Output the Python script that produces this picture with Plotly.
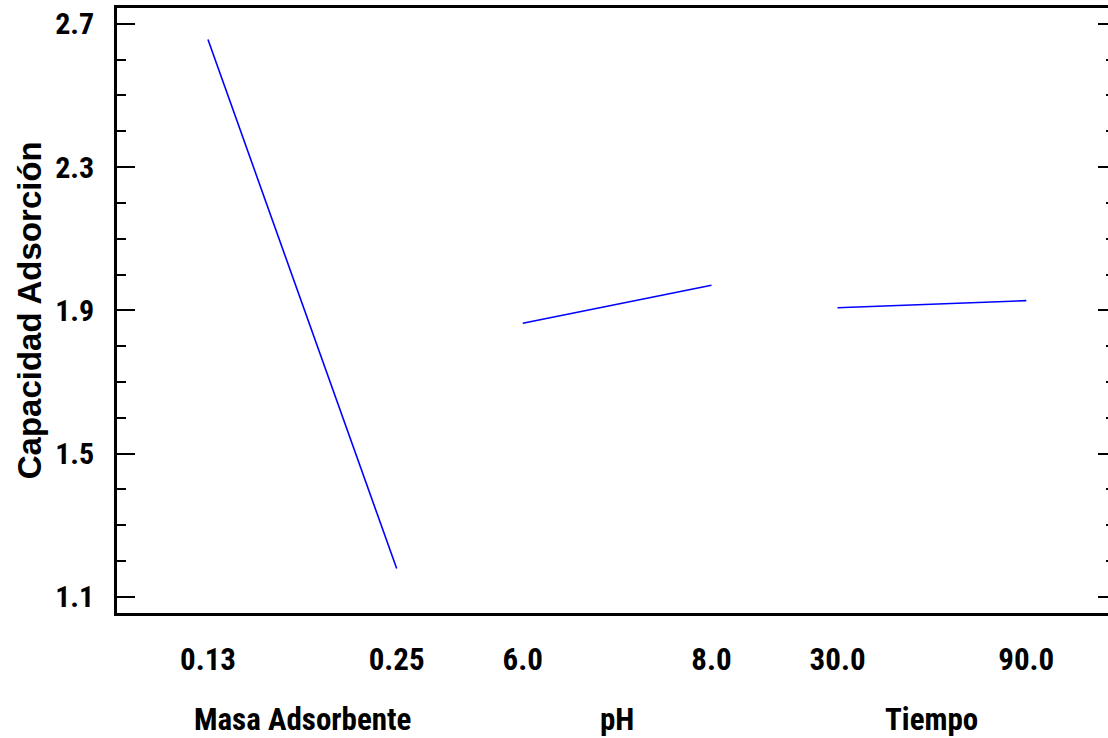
import plotly.graph_objects as go

# ---- data ----
factors = ["Masa Adsorbente", "pH", "Tiempo"]
masa_levels = ["0.13", "0.25"]
masa_values = [2.656, 1.179]
ph_levels = ["6.0", "8.0"]
ph_values = [1.864, 1.970]
tiempo_levels = ["30.0", "90.0"]
tiempo_values = [1.907, 1.927]

y_ticks = [1.1, 1.5, 1.9, 2.3, 2.7]
y_title = "Capacidad Adsorción"

levels = [masa_levels, ph_levels, tiempo_levels]
values = [masa_values, ph_values, tiempo_values]

# ---- layout helpers ----
GAP = 0.668  # gap between factor segments (in segment-width units)
narrow = "Liberation Sans Narrow, Arial Narrow, Roboto Condensed, Roboto, sans-serif"
LINE_BLUE = "rgb(0,0,255)"

fig = go.Figure()
tickvals, ticktext = [], []
for i, (lv, vals) in enumerate(zip(levels, values)):
    x0 = i * (1 + GAP)
    xs = [x0, x0 + 1]
    fig.add_trace(go.Scatter(x=xs, y=vals, mode="lines",
                             line=dict(color=LINE_BLUE, width=1.6),
                             showlegend=False, hoverinfo="skip"))
    tickvals += xs
    ticktext += lv
    fig.add_annotation(x=x0 + 0.5, xref="x", y=-0.176, yref="paper",
                       text=f"<b>{factors[i]}</b>", showarrow=False,
                       xanchor="center", yanchor="middle",
                       font=dict(family=narrow, size=31, color="black"))

# invisible trace so the mirrored right-hand tick axis is drawn
fig.add_trace(go.Scatter(x=[None], y=[None], yaxis="y2", mode="lines",
                         showlegend=False, hoverinfo="skip"))

fig.add_annotation(x=-0.088, xref="paper", y=0.5, yref="paper",
                   text=f"<b>{y_title}</b>", textangle=-90, showarrow=False,
                   xanchor="center", yanchor="middle",
                   font=dict(family="Liberation Sans, Arial, sans-serif", size=33, color="black"))

yrange = [1.055, 2.744]

fig.update_layout(
    width=1108, height=738,
    margin=dict(l=117, r=0, t=8, b=125),
    paper_bgcolor="white", plot_bgcolor="white",
    xaxis=dict(range=[-0.482, 4.769], tickvals=tickvals,
               ticktext=[f"<b>{t}</b>" for t in ticktext],
               ticks="", showgrid=False, zeroline=False,
               showline=True, linecolor="black", linewidth=2.5, mirror=True,
               tickfont=dict(family=narrow, size=31, color="black"),
               ticklabelstandoff=17),
    yaxis=dict(range=yrange, tickvals=y_ticks,
               ticktext=[f"<b>{v:.1f}</b>" for v in y_ticks],
               ticks="inside", ticklen=18, tickwidth=2, tickcolor="black",
               minor=dict(dtick=0.1, tick0=1.1, ticks="inside", ticklen=9,
                          tickwidth=2, tickcolor="black", showgrid=False),
               showgrid=False, zeroline=False,
               showline=True, linecolor="black", linewidth=2.5,
               tickfont=dict(family=narrow, size=30, color="black"),
               ticklabelstandoff=14),
    yaxis2=dict(range=yrange, overlaying="y", side="right", anchor="x",
                tickvals=y_ticks, showticklabels=False,
                ticks="inside", ticklen=10, tickwidth=2, tickcolor="black",
                minor=dict(dtick=0.1, tick0=1.1, ticks="inside", ticklen=2,
                           tickwidth=2, tickcolor="black", showgrid=False),
                showgrid=False, zeroline=False, showline=False),
)

fig.write_html("out.html")
